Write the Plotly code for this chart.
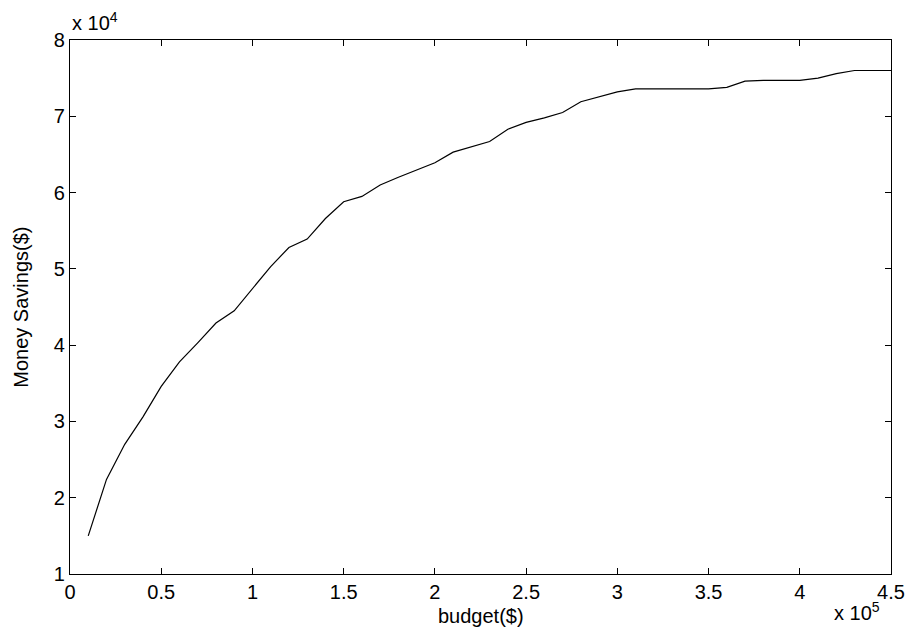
import plotly.graph_objects as go

# Data
budget = [10000, 20000, 30000, 40000, 50000, 60000, 70000, 80000, 90000, 100000,
          110000, 120000, 130000, 140000, 150000, 160000, 170000, 180000, 190000, 200000,
          210000, 220000, 230000, 240000, 250000, 260000, 270000, 280000, 290000, 300000,
          310000, 320000, 330000, 340000, 350000, 360000, 370000, 380000, 390000, 400000,
          410000, 420000, 430000, 440000, 450000]
savings = [15000, 22400, 27000, 30600, 34600, 37800, 40300, 42900, 44500, 47400,
           50300, 52800, 53900, 56600, 58800, 59500, 61000, 62000, 63000, 63900,
           65300, 66000, 66700, 68300, 69200, 69800, 70500, 71900, 72600, 73200,
           73600, 73600, 73600, 73600, 73600, 73800, 74600, 74700, 74700, 74700,
           75000, 75600, 76000, 76000, 76000]

x_tick_vals = [0, 50000, 100000, 150000, 200000, 250000, 300000, 350000, 400000, 450000]
x_tick_text = ["0", "0.5", "1", "1.5", "2", "2.5", "3", "3.5", "4", "4.5"]
y_tick_vals = [10000, 20000, 30000, 40000, 50000, 60000, 70000, 80000]
y_tick_text = ["1", "2", "3", "4", "5", "6", "7", "8"]

FONT = "Liberation Sans, Arial, Helvetica, sans-serif"

fig = go.Figure()
fig.add_trace(go.Scatter(x=budget, y=savings, mode="lines",
                         line=dict(color="black", width=1.2), showlegend=False))

axis_common = dict(showline=True, linecolor="black", linewidth=1.2, mirror="allticks",
                   ticks="inside", ticklen=6, tickcolor="black", tickwidth=1,
                   showgrid=False, zeroline=False, automargin=False,
                   tickfont=dict(family=FONT, size=20, color="black"))

fig.update_xaxes(range=[0, 450000], tickmode="array", tickvals=x_tick_vals,
                 ticktext=x_tick_text, **axis_common)
fig.update_yaxes(range=[10000, 80000], tickmode="array", tickvals=y_tick_vals,
                 ticktext=y_tick_text, **axis_common)

fig.add_annotation(text="budget($)", xref="paper", yref="paper", x=0.5, y=-0.0787,
                   xanchor="center", yanchor="middle", showarrow=False,
                   font=dict(family=FONT, size=20, color="black"))
fig.add_annotation(text="Money Savings($)", xref="paper", yref="paper", x=-0.06, y=0.5,
                   xanchor="center", yanchor="middle", textangle=-90, showarrow=False,
                   font=dict(family=FONT, size=20, color="black"))
fig.add_annotation(text="x 10<sup>4</sup>", xref="paper", yref="paper", x=0, y=1,
                   xanchor="left", yanchor="bottom", yshift=4, showarrow=False,
                   font=dict(family=FONT, size=20, color="black"))
fig.add_annotation(text="x 10<sup>5</sup>", xref="paper", yref="paper", x=0.928, y=0,
                   xanchor="left", yanchor="top", yshift=-23, showarrow=False,
                   font=dict(family=FONT, size=20, color="black"))

fig.update_layout(width=911, height=639, margin=dict(l=70, r=20, t=40, b=65),
                  paper_bgcolor="white", plot_bgcolor="white",
                  font=dict(family=FONT, color="black"))

fig.write_html("out.html")
